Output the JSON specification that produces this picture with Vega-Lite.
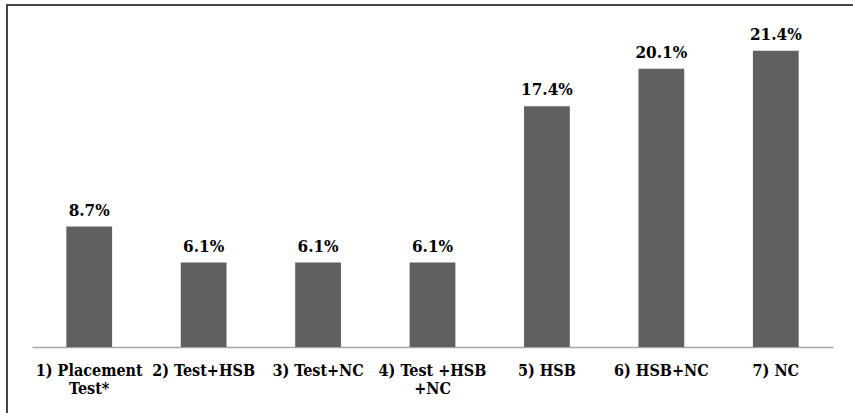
{
  "$schema": "https://vega.github.io/schema/vega-lite/v6.json",
  "autosize": {"type": "none"},
  "padding": {"left": 7, "top": 5, "right": -34, "bottom": -32},
  "width": 880,
  "height": 440,
  "background": "white",
  "config": {"view": {"stroke": "#444444", "strokeWidth": 2}, "font": "DejaVu Serif Condensed"},
  "data": {"values": [
    {"group": "1) Placement Test*", "pct": 0.087},
    {"group": "2) Test+HSB", "pct": 0.061},
    {"group": "3) Test+NC", "pct": 0.061},
    {"group": "4) Test +HSB +NC", "pct": 0.061},
    {"group": "5) HSB", "pct": 0.174},
    {"group": "6) HSB+NC", "pct": 0.201},
    {"group": "7) NC", "pct": 0.214}
  ]},
  "encoding": {
    "x": {
      "field": "group", "type": "nominal", "sort": null,
      "scale": {"range": [25, 826], "paddingInner": 0.6, "paddingOuter": 0.3},
      "axis": {
        "title": null, "orient": "bottom", "offset": -98, "labelAngle": 0, "ticks": false,
        "domainColor": "#a6a6a6", "domainWidth": 1.6,
        "labelFont": "DejaVu Serif Condensed", "labelFontWeight": "bold", "labelFontSize": 16,
        "labelColor": "#000000", "labelPadding": 15, "labelLineHeight": 18,
        "labelLimit": 0, "labelOverlap": false,
        "labelExpr": "datum.value == '1) Placement Test*' ? ['1) Placement', 'Test*'] : datum.value == '4) Test +HSB +NC' ? ['4) Test +HSB', '+NC'] : datum.label"
      }
    },
    "y": {
      "field": "pct", "type": "quantitative",
      "scale": {"domain": [0, 0.24], "range": [342, 9.8]},
      "axis": null
    }
  },
  "layer": [
    {"mark": {"type": "bar", "color": "#606060"}},
    {
      "mark": {"type": "text", "baseline": "alphabetic", "dy": -11, "font": "DejaVu Serif Condensed", "fontWeight": "bold", "fontSize": 17, "color": "#000000"},
      "encoding": {"text": {"field": "pct", "type": "quantitative", "format": ".1%"}}
    }
  ]
}
